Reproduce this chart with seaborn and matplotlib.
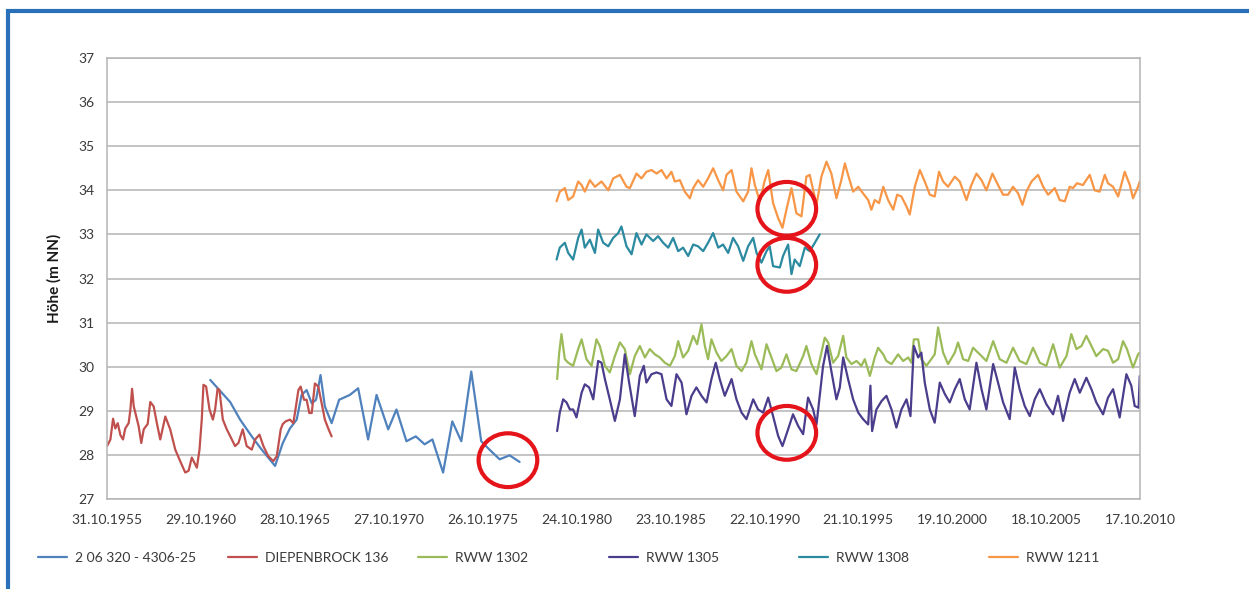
import matplotlib
matplotlib.use("Agg")
import matplotlib.pyplot as plt
import matplotlib.dates as mdates
from matplotlib.lines import Line2D
from matplotlib.patches import Ellipse, Rectangle
import numpy as np
import pandas as pd
import seaborn as sns

# ---------------------------------------------------------------- data
series_names = ["2 06 320 - 4306-25", "DIEPENBROCK 136", "RWW 1302",
                "RWW 1305", "RWW 1308", "RWW 1211"]
series_colors = ["#4f81bd", "#c0504d", "#9bbb59", "#4b3c8c", "#2b8aa0", "#f79646"]

# decimal year / water level (m NN)
blue_years = [1961.32, 1962.38, 1962.91, 1963.53, 1964.06, 1964.77, 1965.18, 1965.56,
              1965.92, 1966.18, 1966.45, 1966.72, 1966.95, 1967.19, 1967.42, 1967.78,
              1968.18, 1968.75, 1969.19, 1969.72, 1970.17, 1970.79, 1971.23, 1971.76,
              1972.26, 1972.73, 1973.14, 1973.71, 1974.20, 1974.68, 1975.21, 1975.74,
              1976.18, 1976.72, 1977.25, 1977.78]
blue_vals = [29.70, 29.20, 28.80, 28.42, 28.12, 27.75, 28.27, 28.60,
             28.80, 29.36, 29.47, 29.17, 29.25, 29.81, 29.10, 28.72,
             29.25, 29.36, 29.51, 28.35, 29.36, 28.58, 29.03, 28.31,
             28.42, 28.24, 28.35, 27.60, 28.76, 28.31, 29.89, 28.31,
             28.12, 27.90, 27.99, 27.84]

red_years = [1955.83, 1956.01, 1956.15, 1956.27, 1956.40, 1956.54, 1956.68, 1956.80,
             1956.98, 1957.07, 1957.16, 1957.25, 1957.51, 1957.65, 1957.78, 1957.99,
             1958.13, 1958.31, 1958.48, 1958.66, 1958.93, 1959.19, 1959.46, 1959.72,
             1959.99, 1960.17, 1960.34, 1960.61, 1960.75, 1960.87, 1960.96, 1961.10,
             1961.28, 1961.46, 1961.58, 1961.71, 1961.81, 1961.99, 1962.20, 1962.47,
             1962.64, 1962.82, 1963.05, 1963.26, 1963.53, 1963.71, 1963.94, 1964.15,
             1964.41, 1964.68, 1964.86, 1965.07, 1965.18, 1965.33, 1965.56, 1965.74,
             1965.88, 1966.01, 1966.13, 1966.31, 1966.45, 1966.59, 1966.72, 1966.89,
             1967.07, 1967.25, 1967.42, 1967.60, 1967.78]
red_vals = [28.20, 28.35, 28.82, 28.60, 28.72, 28.45, 28.35, 28.60,
            28.72, 29.02, 29.50, 29.10, 28.65, 28.27, 28.58, 28.70,
            29.20, 29.10, 28.72, 28.35, 28.87, 28.58, 28.12, 27.86,
            27.60, 27.64, 27.94, 27.71, 28.12, 28.80, 29.59, 29.55,
            29.03, 28.80, 29.03, 29.50, 29.47, 28.80, 28.58, 28.35,
            28.20, 28.27, 28.58, 28.20, 28.12, 28.35, 28.46, 28.20,
            27.97, 27.86, 27.97, 28.58, 28.70, 28.76, 28.80, 28.72,
            29.10, 29.47, 29.55, 29.25, 29.25, 28.95, 28.95, 29.62,
            29.55, 29.17, 28.80, 28.60, 28.42]

green_years = [1979.78, 1979.89, 1980.01, 1980.19, 1980.37, 1980.63, 1980.90, 1981.08,
               1981.34, 1981.61, 1981.87, 1982.05, 1982.32, 1982.58, 1982.85, 1983.12,
               1983.38, 1983.65, 1983.91, 1984.18, 1984.45, 1984.71, 1984.98, 1985.24,
               1985.51, 1985.78, 1986.04, 1986.22, 1986.48, 1986.75, 1987.02, 1987.23,
               1987.46, 1987.64, 1987.81, 1987.99, 1988.26, 1988.52, 1988.79, 1989.06,
               1989.32, 1989.59, 1989.85, 1990.12, 1990.30, 1990.65, 1990.92, 1991.18,
               1991.45, 1991.71, 1991.98, 1992.25, 1992.51, 1992.87, 1993.04, 1993.31,
               1993.58, 1993.84, 1994.02, 1994.20, 1994.46, 1994.73, 1995.00, 1995.17,
               1995.44, 1995.71, 1995.97, 1996.15, 1996.42, 1996.68, 1996.86, 1997.13,
               1997.30, 1997.57, 1997.92, 1998.19, 1998.46, 1998.63, 1998.76, 1998.99,
               1999.16, 1999.43, 1999.87, 2000.05, 2000.32, 2000.58, 2000.94, 2001.11,
               2001.38, 2001.65, 2001.91, 2002.27, 2002.62, 2002.98, 2003.33, 2003.69,
               2004.04, 2004.39, 2004.75, 2005.10, 2005.46, 2005.81, 2006.17, 2006.52,
               2006.88, 2007.14, 2007.41, 2007.68, 2007.94, 2008.21, 2008.47, 2008.83,
               2009.09, 2009.36, 2009.63, 2009.89, 2010.10, 2010.42, 2010.69, 2010.78]
green_vals = [29.72, 30.32, 30.74, 30.17, 30.09, 30.02, 30.40, 30.62,
              30.17, 30.02, 30.62, 30.47, 30.02, 29.87, 30.24, 30.55,
              30.40, 29.83, 30.24, 30.47, 30.21, 30.40, 30.28, 30.21,
              30.09, 30.02, 30.24, 30.58, 30.21, 30.36, 30.70, 30.51,
              30.96, 30.47, 30.17, 30.62, 30.32, 30.13, 30.24, 30.40,
              30.02, 29.90, 30.09, 30.58, 30.28, 29.94, 30.51, 30.21,
              29.90, 29.98, 30.28, 29.94, 29.90, 30.24, 30.47, 30.06,
              29.83, 30.32, 30.66, 30.55, 30.09, 30.24, 30.70, 30.21,
              30.06, 30.13, 30.02, 30.17, 29.79, 30.21, 30.43, 30.28,
              30.13, 30.06, 30.28, 30.13, 30.21, 30.09, 30.62, 30.62,
              30.17, 30.02, 30.28, 30.89, 30.32, 30.06, 30.32, 30.55,
              30.17, 30.13, 30.43, 30.28, 30.13, 30.58, 30.17, 30.09,
              30.43, 30.13, 30.06, 30.43, 30.09, 30.02, 30.51, 29.98,
              30.24, 30.74, 30.40, 30.47, 30.70, 30.47, 30.24, 30.40,
              30.36, 30.09, 30.17, 30.58, 30.40, 29.98, 30.28, 30.32]

purple_years = [1979.78, 1979.92, 1980.10, 1980.28, 1980.46, 1980.63, 1980.81, 1981.08,
                1981.25, 1981.48, 1981.70, 1981.96, 1982.14, 1982.32, 1982.58, 1982.85,
                1983.12, 1983.38, 1983.61, 1983.91, 1984.18, 1984.39, 1984.53, 1984.80,
                1985.07, 1985.33, 1985.60, 1985.86, 1986.13, 1986.40, 1986.66, 1986.93,
                1987.19, 1987.46, 1987.73, 1987.99, 1988.22, 1988.43, 1988.70, 1989.06,
                1989.32, 1989.59, 1989.85, 1990.21, 1990.47, 1990.74, 1991.01, 1991.27,
                1991.54, 1991.77, 1992.07, 1992.33, 1992.60, 1992.87, 1993.13, 1993.40,
                1993.58, 1993.75, 1993.93, 1994.14, 1994.37, 1994.64, 1994.82, 1995.00,
                1995.26, 1995.53, 1995.80, 1996.06, 1996.33, 1996.45, 1996.54, 1996.77,
                1997.04, 1997.30, 1997.57, 1997.83, 1998.10, 1998.37, 1998.58, 1998.76,
                1998.99, 1999.16, 1999.34, 1999.61, 1999.87, 2000.14, 2000.41, 2000.67,
                2000.94, 2001.20, 2001.47, 2001.73, 2002.09, 2002.36, 2002.62, 2002.98,
                2003.24, 2003.51, 2003.86, 2004.13, 2004.39, 2004.66, 2004.93, 2005.19,
                2005.46, 2005.81, 2006.17, 2006.43, 2006.70, 2007.05, 2007.32, 2007.59,
                2007.94, 2008.21, 2008.47, 2008.83, 2009.09, 2009.36, 2009.71, 2010.07,
                2010.33, 2010.51, 2010.72, 2010.78]
purple_vals = [28.54, 28.96, 29.26, 29.19, 29.03, 29.03, 28.85, 29.41,
               29.60, 29.53, 29.26, 30.13, 30.09, 29.72, 29.26, 28.77,
               29.26, 30.28, 29.64, 28.88, 29.79, 30.02, 29.64, 29.83,
               29.87, 29.83, 29.26, 29.11, 29.83, 29.64, 28.92, 29.34,
               29.53, 29.34, 29.19, 29.72, 30.09, 29.72, 29.34, 29.72,
               29.26, 28.96, 28.81, 29.26, 29.03, 28.96, 29.30, 28.88,
               28.43, 28.20, 28.58, 28.92, 28.66, 28.47, 29.30, 29.03,
               28.69, 29.34, 30.02, 30.47, 29.90, 29.26, 29.53, 30.21,
               29.72, 29.26, 28.96, 28.81, 28.69, 29.57, 28.54, 29.03,
               29.22, 29.34, 29.03, 28.62, 29.03, 29.26, 28.88, 30.47,
               30.21, 30.32, 29.64, 29.03, 28.73, 29.64, 29.38, 29.19,
               29.49, 29.72, 29.26, 29.03, 30.09, 29.49, 29.03, 30.06,
               29.64, 29.19, 28.81, 29.98, 29.49, 29.11, 28.88, 29.26,
               29.49, 29.15, 28.92, 29.34, 28.77, 29.41, 29.72, 29.41,
               29.75, 29.49, 29.19, 28.92, 29.30, 29.49, 28.85, 29.83,
               29.57, 29.11, 29.07, 29.79]

teal_years = [1979.75, 1979.92, 1980.19, 1980.37, 1980.63, 1980.90, 1981.08, 1981.25,
              1981.52, 1981.79, 1981.96, 1982.23, 1982.50, 1982.76, 1983.03, 1983.20,
              1983.47, 1983.74, 1984.00, 1984.27, 1984.53, 1984.89, 1985.15, 1985.42,
              1985.69, 1985.95, 1986.22, 1986.48, 1986.75, 1987.02, 1987.28, 1987.55,
              1987.81, 1988.08, 1988.35, 1988.61, 1988.88, 1989.14, 1989.41, 1989.68,
              1989.94, 1990.21, 1990.39, 1990.65, 1990.92, 1991.09, 1991.27, 1991.63,
              1991.80, 1992.07, 1992.25, 1992.42, 1992.69, 1992.96, 1993.22, 1993.49,
              1993.75]
teal_vals = [32.43, 32.70, 32.81, 32.58, 32.43, 32.92, 33.11, 32.70,
             32.88, 32.58, 33.11, 32.81, 32.73, 32.92, 33.03, 33.18,
             32.73, 32.55, 33.03, 32.77, 33.00, 32.85, 32.96, 32.81,
             32.70, 32.92, 32.62, 32.70, 32.51, 32.77, 32.73, 32.62,
             32.81, 33.03, 32.70, 32.77, 32.58, 32.92, 32.73, 32.40,
             32.73, 32.92, 32.58, 32.36, 32.62, 32.73, 32.28, 32.25,
             32.51, 32.77, 32.10, 32.43, 32.28, 32.70, 32.62, 32.81,
             33.00]

orange_years = [1979.75, 1979.92, 1980.19, 1980.37, 1980.63, 1980.90, 1981.08, 1981.25,
                1981.52, 1981.79, 1982.14, 1982.50, 1982.76, 1983.12, 1983.47, 1983.65,
                1984.00, 1984.27, 1984.53, 1984.80, 1985.07, 1985.33, 1985.60, 1985.86,
                1986.04, 1986.31, 1986.57, 1986.84, 1987.02, 1987.28, 1987.55, 1987.81,
                1988.08, 1988.35, 1988.61, 1988.79, 1989.06, 1989.32, 1989.68, 1989.94,
                1990.12, 1990.30, 1990.56, 1990.83, 1991.01, 1991.27, 1991.54, 1991.77,
                1991.98, 1992.25, 1992.51, 1992.78, 1993.04, 1993.22, 1993.58, 1993.84,
                1994.11, 1994.37, 1994.64, 1994.90, 1995.09, 1995.26, 1995.53, 1995.80,
                1996.06, 1996.33, 1996.50, 1996.68, 1996.91, 1997.13, 1997.39, 1997.66,
                1997.87, 1998.10, 1998.37, 1998.54, 1998.81, 1999.08, 1999.34, 1999.61,
                1999.87, 2000.10, 2000.32, 2000.58, 2000.94, 2001.20, 2001.56, 2001.82,
                2002.09, 2002.36, 2002.62, 2002.94, 2003.24, 2003.51, 2003.77, 2004.04,
                2004.31, 2004.54, 2004.75, 2005.02, 2005.37, 2005.64, 2005.90, 2006.26,
                2006.52, 2006.79, 2007.05, 2007.23, 2007.44, 2007.76, 2008.12, 2008.38,
                2008.65, 2008.92, 2009.09, 2009.36, 2009.63, 2009.98, 2010.25, 2010.42,
                2010.69, 2010.78]
orange_vals = [33.75, 33.97, 34.05, 33.78, 33.86, 34.20, 34.12, 33.97,
               34.23, 34.08, 34.20, 34.00, 34.27, 34.35, 34.08, 34.05,
               34.38, 34.27, 34.42, 34.46, 34.38, 34.46, 34.27, 34.42,
               34.20, 34.23, 33.97, 33.82, 34.05, 34.23, 34.08, 34.27,
               34.50, 34.23, 34.00, 34.35, 34.46, 33.97, 33.75, 33.97,
               34.50, 34.12, 33.75, 34.23, 34.46, 33.71, 33.37, 33.15,
               33.56, 34.05, 33.48, 33.41, 34.31, 34.35, 33.67, 34.31,
               34.65, 34.38, 33.82, 34.23, 34.61, 34.35, 33.97, 34.08,
               33.93, 33.78, 33.56, 33.78, 33.71, 34.08, 33.78, 33.56,
               33.90, 33.86, 33.63, 33.45, 34.08, 34.46, 34.20, 33.90,
               33.86, 34.42, 34.20, 34.08, 34.31, 34.20, 33.78, 34.12,
               34.38, 34.23, 34.00, 34.38, 34.12, 33.90, 33.90, 34.08,
               33.93, 33.67, 33.97, 34.20, 34.35, 34.08, 33.90, 34.05,
               33.78, 33.75, 34.08, 34.05, 34.16, 34.12, 34.35, 34.00,
               33.97, 34.35, 34.16, 34.08, 33.86, 34.42, 34.12, 33.82,
               34.08, 34.20]

tick_labels = ["31.10.1955", "29.10.1960", "28.10.1965", "27.10.1970", "26.10.1975",
               "24.10.1980", "23.10.1985", "22.10.1990", "21.10.1995", "19.10.2000",
               "18.10.2005", "17.10.2010"]
y_ticks = list(range(27, 38))

# highlighted spots: (decimal year, level)
mark_years = [1977.16, 1992.00, 1992.00, 1992.00]
mark_levels = [27.88, 33.58, 32.31, 28.50]


def to_dates(years):
    out = []
    for y in years:
        base = pd.Timestamp(year=int(y), month=1, day=1)
        out.append(base + pd.Timedelta(days=(y - int(y)) * 365.25))
    return out


all_years = [blue_years, red_years, green_years, purple_years, teal_years, orange_years]
all_vals = [blue_vals, red_vals, green_vals, purple_vals, teal_vals, orange_vals]
frames = []
for name, yrs, vals in zip(series_names, all_years, all_vals):
    frames.append(pd.DataFrame({"date": to_dates(yrs), "value": vals, "series": name}))
df = pd.concat(frames, ignore_index=True)

# ---------------------------------------------------------------- figure
sns.set_theme(style="white")
plt.rcParams["font.family"] = ["Lato", "DejaVu Sans"]

fig = plt.figure(figsize=(12.49, 5.89), dpi=100)
ax = fig.add_axes([0.0857, 0.1528, 0.8270, 0.7487])

palette = dict(zip(series_names, series_colors))
sns.lineplot(data=df, x="date", y="value", hue="series", palette=palette,
             estimator=None, sort=False, linewidth=1.6, legend=False, ax=ax)

tick_dates = [pd.to_datetime(t, format="%d.%m.%Y") for t in tick_labels]
ax.set_xlim(tick_dates[0], tick_dates[-1])
ax.set_xticks(tick_dates)
ax.set_xticklabels(tick_labels)
ax.set_ylim(27, 37)
ax.set_yticks(y_ticks)
ax.set_xlabel("")
ax.set_ylabel("Höhe (m NN)", fontsize=11, fontweight="bold", color="#1a1a1a", labelpad=12)

grid_col = "#b4b4b4"
ax.yaxis.grid(True, color=grid_col, linewidth=1.1)
ax.xaxis.grid(False)
for side in ["left", "right", "bottom", "top"]:
    ax.spines[side].set_color(grid_col)
    ax.spines[side].set_linewidth(1.1)
ax.tick_params(axis="both", which="major", labelsize=10, labelcolor="#3a3a3a",
               color=grid_col, width=1.0, length=5, direction="out")
ax.tick_params(axis="x", pad=6)
ax.tick_params(axis="y", pad=4)
ax.set_axisbelow(True)

# red highlight rings
for yr, lv in zip(mark_years, mark_levels):
    d = mdates.date2num(to_dates([yr])[0])
    ax.add_patch(Ellipse((d, lv), width=1140, height=1.22, fill=False,
                         edgecolor="#e5141b", linewidth=3.0, zorder=10, clip_on=False))

# legend, one entry per slot along the bottom
slot_x = [38, 228, 418, 609, 799, 989]
for name, col, px in zip(series_names, series_colors, slot_x):
    h = Line2D([], [], color=col, linewidth=1.6)
    fig.legend(handles=[h], labels=[name], loc="center left",
               bbox_to_anchor=(px / 1249, 1 - 558 / 589), frameon=False,
               fontsize=10, handlelength=2.1, handletextpad=0.55,
               borderaxespad=0, borderpad=0, labelcolor="#3a3a3a")

# outer blue frame
fig.patches.append(Rectangle((8 / 1249, -0.05), 1.1, 1 - 11 / 589 + 0.05,
                             transform=fig.transFigure, fill=False,
                             edgecolor="#2a70b8", linewidth=3.0, zorder=20))

fig.savefig("out.png", dpi=100, facecolor="white")
